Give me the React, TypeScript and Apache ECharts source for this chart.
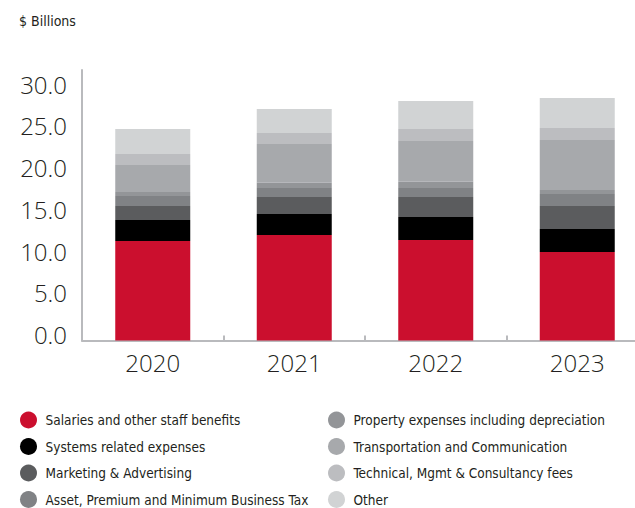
import React, { useEffect, useRef } from "react";
import * as echarts from "echarts";

const years = ["2020", "2021", "2022", "2023"];
const seriesNames = [
  "Salaries and other staff benefits",
  "Systems related expenses",
  "Marketing & Advertising",
  "Asset, Premium and Minimum Business Tax",
  "Property expenses including depreciation",
  "Transportation and Communication",
  "Technical, Mgmt & Consultancy fees",
  "Other",
];
const salaries = [11.92, 12.63, 12.04, 10.6];
const systems = [2.51, 2.52, 2.75, 2.75];
const marketing = [1.68, 2.04, 2.4, 2.76];
const assetTax = [1.2, 1.07, 1.07, 1.43];
const property = [0.47, 0.64, 0.76, 0.48];
const transport = [3.24, 4.63, 4.87, 5.99];
const technical = [1.32, 1.32, 1.44, 1.44];
const other = [2.99, 2.87, 3.35, 3.59];
const yTicks = [0, 5, 10, 15, 20, 25, 30];

const colors = [
  "#cb0f2e",
  "#000000",
  "#5b5c5e",
  "#808285",
  "#939598",
  "#a7a9ac",
  "#bcbdc0",
  "#d1d3d4",
];

const NARROW = "'DejaVu Sans Condensed', Roboto, sans-serif";
const AXISFONT = "'Open Sans', sans-serif";

export default function App() {
  const ref = useRef<HTMLDivElement>(null);
  useEffect(() => {
    document.body.style.margin = "0";
    if (!ref.current) return;
    const chart = echarts.init(ref.current, undefined, { renderer: "svg" });
    const values = [salaries, systems, marketing, assetTax, property, transport, technical, other];
    const legendCommon = {
      orient: "vertical" as const,
      top: 411.5,
      height: 120,
      padding: 0,
      icon: "circle",
      itemWidth: 20,
      itemHeight: 17,
      itemGap: 9.5,
      textStyle: {
        fontFamily: NARROW,
        fontSize: 13.5,
        color: "#231f20",
        padding: [0, 0, 0, 2],
      },
    };
    chart.setOption({
      animation: false,
      title: {
        text: "$ Billions",
        left: 19,
        top: 14,
        padding: 0,
        textStyle: { fontFamily: NARROW, fontSize: 14, fontWeight: "normal", color: "#231f20" },
      },
      legend: [
        { ...legendCommon, left: 20, data: seriesNames.slice(0, 4) },
        { ...legendCommon, left: 328, data: seriesNames.slice(4) },
      ],
      grid: {
        left: 82,
        width: 566,
        top: 70,
        height: 270.5,
        containLabel: false,
        outerBoundsMode: "none",
      },
      xAxis: {
        type: "category",
        data: years,
        axisLine: { lineStyle: { color: "#b9babd", width: 2 } },
        axisTick: { show: true, inside: true, length: 5, lineStyle: { color: "#b9babd", width: 2 } },
        axisLabel: {
          fontFamily: AXISFONT,
          fontWeight: 300,
          fontSize: 24,
          color: "#231f20",
          margin: 10,
        },
      },
      yAxis: {
        type: "value",
        min: 0,
        max: 32.4,
        interval: 5,
        splitLine: { show: false },
        axisTick: { show: false },
        axisLine: { show: true, lineStyle: { color: "#b9babd", width: 2 } },
        axisLabel: {
          fontFamily: AXISFONT,
          fontWeight: 300,
          fontSize: 24,
          color: "#231f20",
          margin: 15,
          verticalAlign: "bottom",
          lineHeight: 12,
          showMaxLabel: false,
          formatter: (v: number) => (yTicks.includes(v) ? v.toFixed(1) : ""),
        },
      },
      series: seriesNames.map((name, i) => ({
        name,
        type: "bar",
        stack: "total",
        barWidth: 75,
        data: values[i],
        itemStyle: { color: colors[i] },
      })),
    });
    return () => chart.dispose();
  }, []);
  return <div ref={ref} style={{ width: 635, height: 508 }} />;
}
